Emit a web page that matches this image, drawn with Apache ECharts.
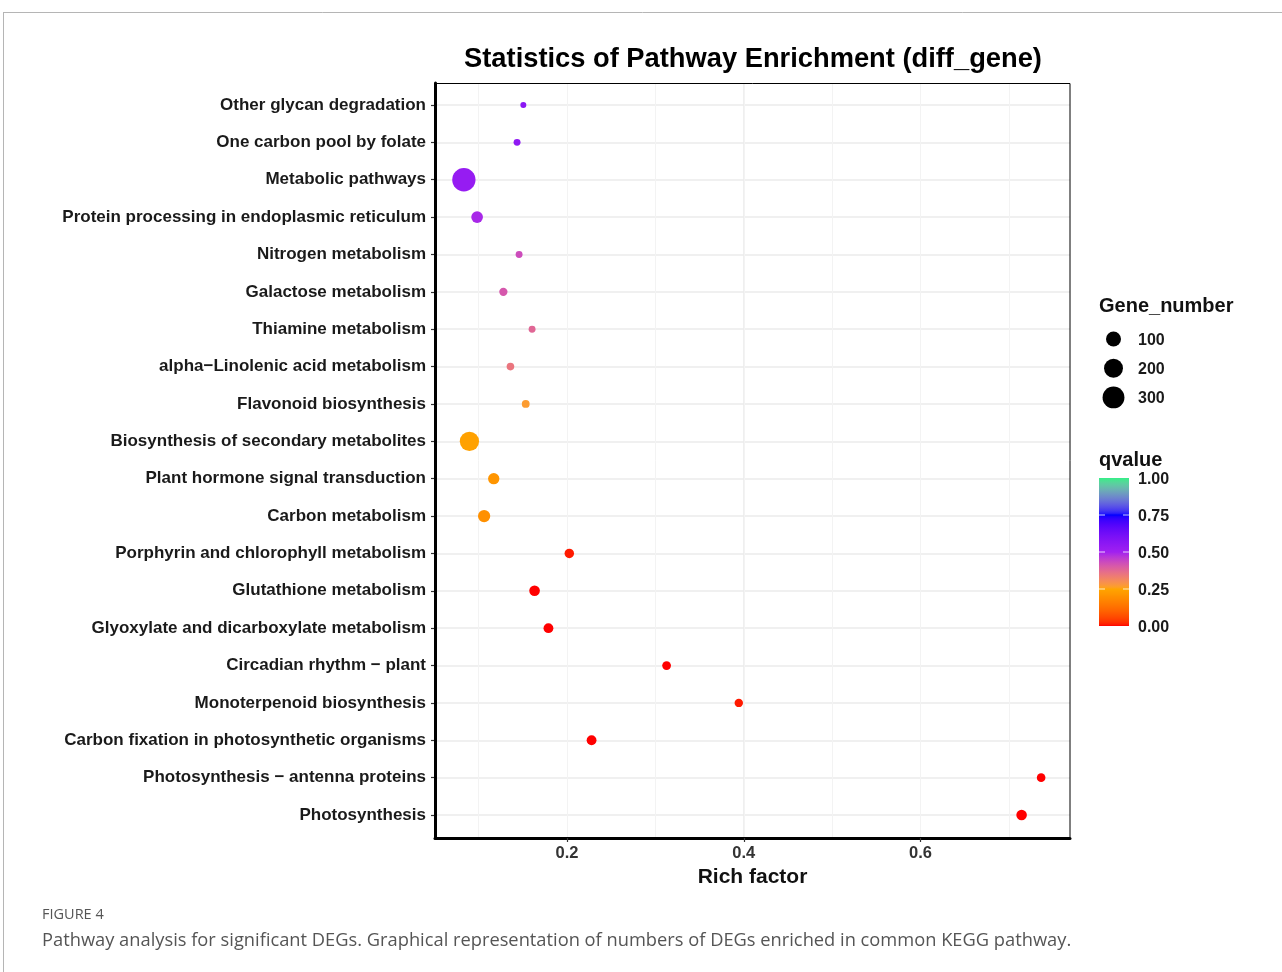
<!DOCTYPE html>
<html>
<head>
<meta charset="utf-8">
<script src="https://cdn.jsdelivr.net/npm/echarts@6/dist/echarts.min.js"></script>
<style>
  html, body { margin: 0; padding: 0; background: #fff; }
  #chart { width: 1282px; height: 972px; }
</style>
</head>
<body>
<div id="chart"></div>
<script>
// KEGG pathways, listed top to bottom
const pathways = [
  'Other glycan degradation',
  'One carbon pool by folate',
  'Metabolic pathways',
  'Protein processing in endoplasmic reticulum',
  'Nitrogen metabolism',
  'Galactose metabolism',
  'Thiamine metabolism',
  'alpha\u2212Linolenic acid metabolism',
  'Flavonoid biosynthesis',
  'Biosynthesis of secondary metabolites',
  'Plant hormone signal transduction',
  'Carbon metabolism',
  'Porphyrin and chlorophyll metabolism',
  'Glutathione metabolism',
  'Glyoxylate and dicarboxylate metabolism',
  'Circadian rhythm \u2212 plant',
  'Monoterpenoid biosynthesis',
  'Carbon fixation in photosynthetic organisms',
  'Photosynthesis \u2212 antenna proteins',
  'Photosynthesis'
];
const richFactor = [
  0.1506, 0.1435, 0.0833, 0.0983, 0.1458, 0.1280, 0.1605, 0.1360, 0.1533, 0.0896,
  0.1171, 0.1062, 0.2026, 0.1633, 0.1790, 0.3127, 0.3944, 0.2278, 0.7365, 0.7144
];
const geneNumber = [
  6, 7, 355, 44, 7, 12, 7, 9, 10, 212,
  39, 52, 20, 31, 23, 15, 13, 23, 14, 30
];
const qvalue = [
  0.56, 0.55, 0.53, 0.49, 0.43, 0.41, 0.38, 0.35, 0.27, 0.24,
  0.21, 0.20, 0.01, 0.00, 0.00, 0.00, 0.01, 0.00, 0.00, 0.00
];
const xTickValues = [0.2, 0.4, 0.6];
const sizeLegendValues = [100, 200, 300];
const qLegendTicks = [1.00, 0.75, 0.50, 0.25, 0.00];
const qPalette = ['#FF0000', '#FFA500', '#A020F0', '#0000FF', '#33EE88'];

const FONT = '"Liberation Sans", Arial, Helvetica, sans-serif';

// x range with 5% padding around the data
const rfMin = Math.min(...richFactor), rfMax = Math.max(...richFactor);
const X_MIN = rfMin - (rfMax - rfMin) * 0.05;
const X_MAX = rfMax + (rfMax - rfMin) * 0.05;

// point diameter: area scale between D_MIN and D_MAX over the gene number range
const D_MIN = 6, D_MAX = 23.3;
const gMin = Math.min(...geneNumber), gMax = Math.max(...geneNumber);
function sizeFor(v) {
  const t = Math.max(0, (v - gMin) / (gMax - gMin));
  return D_MIN + (D_MAX - D_MIN) * Math.sqrt(t);
}

// colour gradient interpolated in CIE Lab
function hexToRgb(h) {
  h = h.replace('#', '');
  return [0, 2, 4].map(i => parseInt(h.substr(i, 2), 16));
}
function toLin(c) { c /= 255; return c <= 0.04045 ? c / 12.92 : Math.pow((c + 0.055) / 1.055, 2.4); }
function fromLin(c) {
  const v = c <= 0.0031308 ? 12.92 * c : 1.055 * Math.pow(c, 1 / 2.4) - 0.055;
  return Math.round(Math.max(0, Math.min(1, v)) * 255);
}
const WN = [0.95047, 1, 1.08883];
function rgbToLab(rgb) {
  const [r, g, b] = rgb.map(toLin);
  const X = (0.4124 * r + 0.3576 * g + 0.1805 * b) / WN[0];
  const Y = (0.2126 * r + 0.7152 * g + 0.0722 * b) / WN[1];
  const Z = (0.0193 * r + 0.1192 * g + 0.9505 * b) / WN[2];
  const f = t => t > 0.008856 ? Math.cbrt(t) : 7.787 * t + 16 / 116;
  const fx = f(X), fy = f(Y), fz = f(Z);
  return [116 * fy - 16, 500 * (fx - fy), 200 * (fy - fz)];
}
function labToHex([L, a, b]) {
  const fy = (L + 16) / 116, fx = fy + a / 500, fz = fy - b / 200;
  const fi = t => t * t * t > 0.008856 ? t * t * t : (t - 16 / 116) / 7.787;
  const X = fi(fx) * WN[0], Y = fi(fy) * WN[1], Z = fi(fz) * WN[2];
  const r = 3.2406 * X - 1.5372 * Y - 0.4986 * Z;
  const g = -0.9689 * X + 1.8758 * Y + 0.0415 * Z;
  const bb = 0.0557 * X - 0.2040 * Y + 1.0570 * Z;
  return '#' + [r, g, bb].map(c => fromLin(c).toString(16).padStart(2, '0')).join('');
}
const paletteLab = qPalette.map(c => rgbToLab(hexToRgb(c)));
const STEPS = 100;
const qStops = [];
for (let i = 0; i <= STEPS; i++) {
  const p = i / STEPS * (paletteLab.length - 1);
  const k = Math.min(Math.floor(p), paletteLab.length - 2);
  const t = p - k;
  const A = paletteLab[k], B = paletteLab[k + 1];
  qStops.push(labToHex([0, 1, 2].map(j => A[j] + (B[j] - A[j]) * t)));
}

const chart = echarts.init(document.getElementById('chart'), null, { renderer: 'canvas' });

// legend geometry
const LEG_X = 1099;
const BAR = { x: 1099, y: 478, w: 30, h: 148 };
const qToY = q => BAR.y + BAR.h - q * BAR.h;

const graphics = [];
// page frame
graphics.push({ type: 'line', shape: { x1: 3, y1: 12.5, x2: 1282, y2: 12.5 }, style: { stroke: '#b5b5b5', lineWidth: 1 } });
graphics.push({ type: 'line', shape: { x1: 3.5, y1: 12, x2: 3.5, y2: 972 }, style: { stroke: '#b5b5b5', lineWidth: 1 } });
// plot title
graphics.push({ type: 'text', x: 753, y: 59, style: { text: 'Statistics of Pathway Enrichment (diff_gene)', font: 'bold 27.3px ' + FONT, fill: '#000', textAlign: 'center', textVerticalAlign: 'middle' } });
// panel border (top/right)
graphics.push({ type: 'rect', z: 10, shape: { x: 435.5, y: 83.5, width: 634.5, height: 754 }, style: { fill: null, stroke: '#000', lineWidth: 1 } });
// size legend
graphics.push({ type: 'text', x: LEG_X, y: 306, style: { text: 'Gene_number', font: 'bold 20px ' + FONT, fill: '#111', textVerticalAlign: 'middle' } });
sizeLegendValues.forEach((v, i) => {
  const cy = 339 + i * 29.2;
  graphics.push({ type: 'circle', shape: { cx: 1113.5, cy: cy, r: sizeFor(v) / 2 }, style: { fill: '#000' } });
  graphics.push({ type: 'text', x: 1138, y: cy + 1.5, style: { text: String(v), font: 'bold 16px ' + FONT, fill: '#1a1a1a', textVerticalAlign: 'middle' } });
});
// colour bar legend
graphics.push({ type: 'text', x: LEG_X, y: 460, style: { text: 'qvalue', font: 'bold 20px ' + FONT, fill: '#111', textVerticalAlign: 'middle' } });
graphics.push({
  type: 'rect', shape: { x: BAR.x, y: BAR.y, width: BAR.w, height: BAR.h },
  style: { fill: new echarts.graphic.LinearGradient(0, 1, 0, 0, qStops.map((c, i) => ({ offset: i / STEPS, color: c }))) }
});
qLegendTicks.forEach(q => {
  const y = qToY(q);
  if (q > 0 && q < 1) {
    graphics.push({ type: 'line', shape: { x1: BAR.x, y1: y, x2: BAR.x + 6, y2: y }, style: { stroke: '#fff', lineWidth: 1, opacity: 0.8 } });
    graphics.push({ type: 'line', shape: { x1: BAR.x + BAR.w - 6, y1: y, x2: BAR.x + BAR.w, y2: y }, style: { stroke: '#fff', lineWidth: 1, opacity: 0.8 } });
  }
  graphics.push({ type: 'text', x: 1138, y: y + 2, style: { text: q.toFixed(2), font: 'bold 16px ' + FONT, fill: '#1a1a1a', textVerticalAlign: 'middle' } });
});
// figure caption
graphics.push({ type: 'text', x: 42, y: 915, style: { text: 'FIGURE 4', font: '14.5px "Open Sans", sans-serif', fill: '#555', textVerticalAlign: 'middle' } });
graphics.push({ type: 'text', x: 42, y: 941, style: { text: 'Pathway analysis for significant DEGs. Graphical representation of numbers of DEGs enriched in common KEGG pathway.', font: '18.3px "Open Sans", sans-serif', fill: '#555', textVerticalAlign: 'middle' } });

const option = {
  animation: false,
  backgroundColor: '#fff',
  graphic: graphics,
  grid: [
    { left: 435, right: 212, top: 83, bottom: 134 },
    { left: 435, right: 212, top: 105, bottom: 157 }
  ],
  xAxis: [
    {
      gridIndex: 0, type: 'value', min: X_MIN, max: X_MAX,
      minInterval: 0.2, maxInterval: 0.2,
      axisLine: { show: true, onZero: false, lineStyle: { color: '#000', width: 3 } },
      axisTick: { show: true, length: 4, customValues: xTickValues, lineStyle: { color: '#333', width: 1.2 } },
      axisLabel: {
        show: true, customValues: xTickValues, margin: 7,
        formatter: v => Number(v).toFixed(1),
        fontFamily: FONT, fontWeight: 'bold', fontSize: 16.5, color: '#333'
      },
      splitLine: { show: true, showMinLine: false, showMaxLine: false, lineStyle: { color: '#ebebeb', width: 1.6 } },
      name: 'Rich factor', nameLocation: 'middle', nameGap: 27,
      nameTextStyle: { fontFamily: FONT, fontWeight: 'bold', fontSize: 21, color: '#111' }
    },
    {
      gridIndex: 0, type: 'value', min: X_MIN, max: X_MAX,
      minInterval: 0.1, maxInterval: 0.1, position: 'bottom',
      axisLine: { show: false }, axisTick: { show: false }, axisLabel: { show: false },
      splitLine: { show: true, showMinLine: false, showMaxLine: false, lineStyle: { color: '#f3f3f3', width: 1 } }
    },
    {
      gridIndex: 1, type: 'value', min: X_MIN, max: X_MAX, show: false
    }
  ],
  yAxis: [
    {
      gridIndex: 0, type: 'value', min: 0, max: 1, z: 3,
      axisLine: { show: true, lineStyle: { color: '#000', width: 3 } },
      axisTick: { show: false }, axisLabel: { show: false }, splitLine: { show: false }
    },
    {
      gridIndex: 1, type: 'category', data: pathways, inverse: true, boundaryGap: false,
      axisLine: { show: false },
      axisTick: { show: true, length: 4, alignWithLabel: true, lineStyle: { color: '#333', width: 1.2 } },
      axisLabel: { margin: 9, fontFamily: FONT, fontWeight: 'bold', fontSize: 17, color: '#1a1a1a' },
      splitLine: { show: true, lineStyle: { color: '#ebebeb', width: 1.6 } }
    }
  ],
  visualMap: {
    show: false, type: 'continuous', min: 0, max: 1, dimension: 2, seriesIndex: 0,
    inRange: { color: qStops }
  },
  series: [{
    type: 'scatter', xAxisIndex: 2, yAxisIndex: 1,
    data: pathways.map((p, i) => [richFactor[i], p, qvalue[i], geneNumber[i]]),
    symbolSize: v => sizeFor(v[3]),
    itemStyle: { opacity: 1 },
    z: 5
  }]
};
chart.setOption(option);
</script>
</body>
</html>
